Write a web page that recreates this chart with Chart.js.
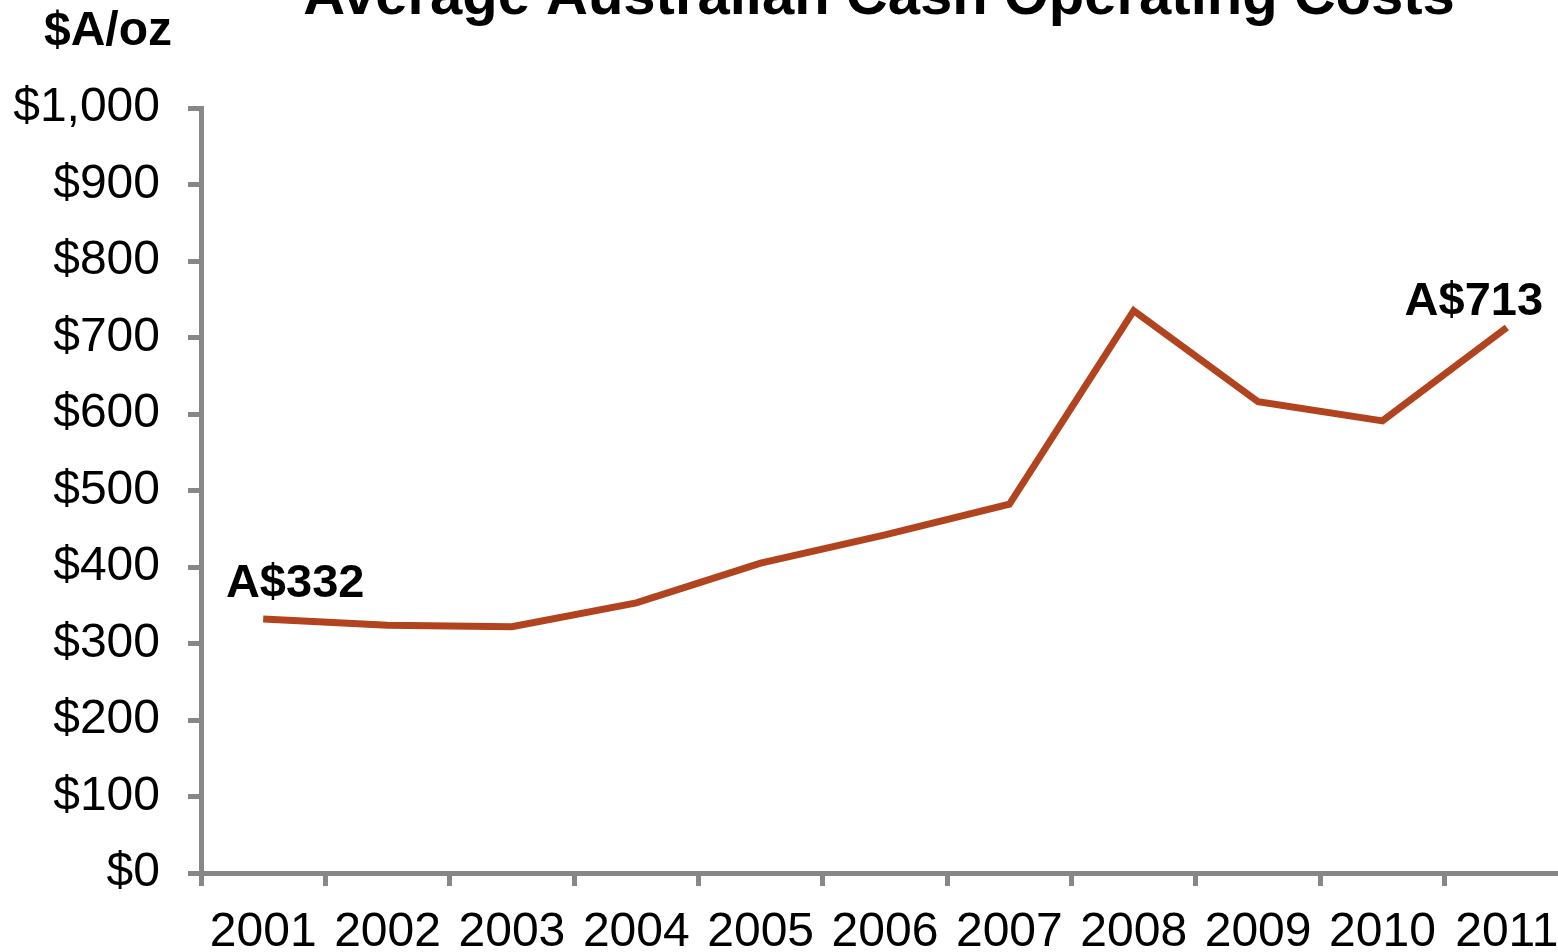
<!DOCTYPE html>
<html lang="en">
<head>
    <meta charset="UTF-8">
    <title>Average Australian Cash Operating Costs</title>
    <script src="https://cdn.jsdelivr.net/npm/chart.js@4/dist/chart.umd.min.js"></script>
    <style>
        html, body { margin: 0; padding: 0; background: #fff; overflow: hidden; }
        .chart-container { position: relative; width: 1580px; height: 952px; }
    </style>
</head>
<body>
    <div class="chart-container">
        <canvas id="costChart"></canvas>
    </div>

    <script>
        const years = ['2001', '2002', '2003', '2004', '2005', '2006', '2007', '2008', '2009', '2010', '2011'];
        const cashCosts = [332, 324, 322, 353, 405, 442, 482, 735, 616, 591, 713];
        const yTicks = [0, 100, 200, 300, 400, 500, 600, 700, 800, 900, 1000];
        const chartTitle = 'Average Australian Cash Operating Costs';
        const unitLabel = '$A/oz';
        // which points get a callout, and where the text sits relative to the point
        const callouts = [
            { index: 0, text: 'A$332', dx: 32, dy: -22 },
            { index: 10, text: 'A$713', dx: -33, dy: -13 }
        ];

        const axisGrey = '#878787';
        const fontFamily = '"Liberation Sans", Arial, sans-serif';

        const textPlugin = {
            id: 'textPlugin',
            afterDraw(chart) {
                const ctx = chart.ctx;
                ctx.save();
                ctx.fillStyle = '#000';
                ctx.textAlign = 'center';
                ctx.textBaseline = 'alphabetic';

                ctx.font = 'bold 58px ' + fontFamily;
                ctx.fillText(chartTitle, 879, 14);

                ctx.font = 'bold 48px ' + fontFamily;
                ctx.fillText(unitLabel, 108, 45);

                const meta = chart.getDatasetMeta(0);
                ctx.font = 'bold 47px ' + fontFamily;
                callouts.forEach(c => {
                    const pt = meta.data[c.index];
                    ctx.fillText(c.text, pt.x + c.dx, pt.y + c.dy);
                });
                ctx.restore();
            }
        };

        function createChart() {
            const ctx = document.getElementById('costChart').getContext('2d');

            new Chart(ctx, {
                type: 'line',
                data: {
                    labels: years,
                    datasets: [{
                        data: cashCosts,
                        borderColor: '#B2431F',
                        borderWidth: 7,
                        borderJoinStyle: 'miter',
                        pointRadius: 0,
                        tension: 0,
                        fill: false
                    }]
                },
                options: {
                    responsive: true,
                    maintainAspectRatio: false,
                    animation: false,
                    layout: { padding: { top: 108, right: 11, left: 0, bottom: 0 } },
                    plugins: {
                        legend: { display: false },
                        title: { display: false },
                        tooltip: { enabled: false }
                    },
                    scales: {
                        x: {
                            offset: true,
                            grid: {
                                offset: true,
                                drawOnChartArea: false,
                                color: axisGrey,
                                lineWidth: 5,
                                tickLength: 13
                            },
                            border: { color: axisGrey, width: 5 },
                            ticks: {
                                color: '#000',
                                font: { family: fontFamily, size: 48 },
                                padding: 18,
                                maxRotation: 0,
                                autoSkip: false
                            },
                            afterFit(scale) { scale.height = 79; }
                        },
                        y: {
                            min: 0,
                            max: 1000,
                            afterBuildTicks(scale) {
                                scale.ticks = yTicks.map(v => ({ value: v }));
                            },
                            grid: {
                                drawOnChartArea: false,
                                color: axisGrey,
                                lineWidth: 5,
                                tickLength: 13
                            },
                            border: { color: axisGrey, width: 5 },
                            ticks: {
                                color: '#000',
                                font: { family: fontFamily, size: 48 },
                                padding: 28,
                                callback: v => '$' + v.toLocaleString('en-US')
                            },
                            afterFit(scale) { scale.width = 201; }
                        }
                    }
                },
                plugins: [textPlugin]
            });
        }

        createChart();
    </script>
</body>
</html>
